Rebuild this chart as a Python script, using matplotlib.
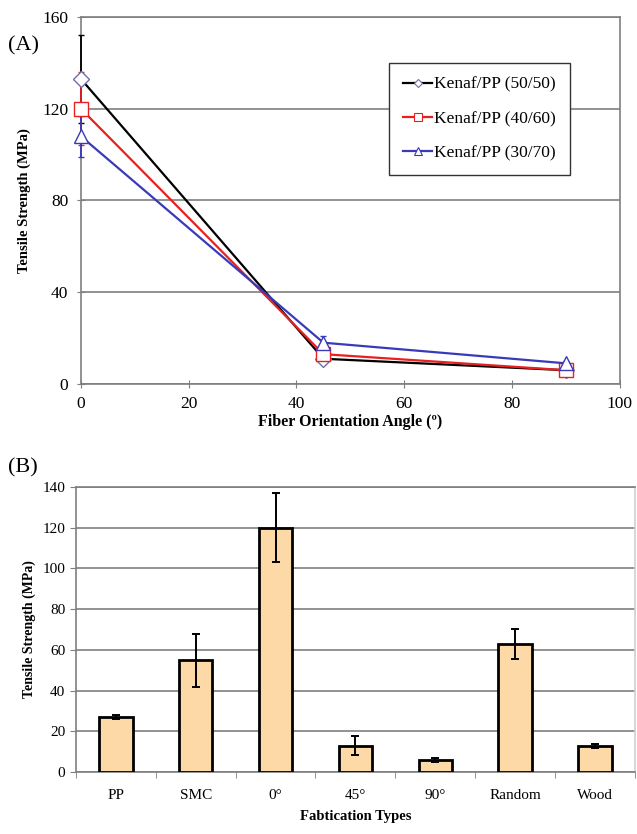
import matplotlib
matplotlib.use("Agg")
import matplotlib.pyplot as plt
from matplotlib.lines import Line2D

plt.rcParams['font.family'] = ['Liberation Serif', 'DejaVu Serif']

# (A) tensile strength vs fiber orientation angle
angles = [0, 45, 90]
s50 = [133, 11, 6]
e50 = [19, 2, 1]
s40 = [120, 13, 6]
e40 = [16, 3, 1]
s30 = [108, 18, 9]
e30 = [9, 3, 1]
labels_a = ["Kenaf/PP (50/50)", "Kenaf/PP (40/60)", "Kenaf/PP (30/70)"]

# (B) tensile strength by fabrication type
types = ["PP", "SMC", "0°", "45°", "90°", "Random", "Wood"]
strength = [27, 55, 120, 13, 6, 63, 13]
strength_err = [1, 13, 17, 4.5, 1, 7.5, 1]

fig = plt.figure(figsize=(6.37, 8.34), dpi=100)
grid_c = "#7f7f7f"

ax = fig.add_axes([0.127, 0.5396, 0.846, 0.44])
series = [
    (s50, e50, "#000000", "D", "#6f6fb0", 8),
    (s40, e40, "#e82020", "s", "#e82020", 10),
    (s30, e30, "#3a3ab8", "^", "#3a3ab8", 10),
]
handles = []
for (y, e, c, m, mc, ms), lab in zip(series, labels_a):
    eb = ax.errorbar(angles, y, yerr=e, color=c, lw=1.6, marker=m, ms=ms,
                     mfc="white", mec=mc, mew=1.0, ecolor=c, elinewidth=1.3,
                     capsize=2.5, zorder=3)
    for art in eb.get_children():
        art.set_clip_on(False)
    handles.append(Line2D([], [], color=c, lw=1.6, marker=m, ms=ms * 0.55,
                          mfc="white", mec=mc, mew=0.8, label=lab))
ax.set_xlim(0, 100)
ax.set_ylim(0, 160)
ax.set_xticks(range(0, 101, 20))
ax.set_yticks(range(0, 161, 40))
ax.yaxis.grid(True, color=grid_c, lw=1.2)
ax.set_axisbelow(True)
for sp in ax.spines.values():
    sp.set_color(grid_c)
    sp.set_linewidth(1.2)
ax.tick_params(direction="inout", length=6, color=grid_c, labelsize=12.5, pad=6)
ax.set_xlabel("Fiber Orientation Angle (º)", fontsize=11.5, fontweight="bold", labelpad=1)
ax.set_ylabel("Tensile Strength (MPa)", fontsize=10.5, fontweight="bold", labelpad=8)
leg = ax.legend(handles=handles, loc="upper left", bbox_to_anchor=(0.562, 0.89),
                fontsize=12.5, frameon=True, fancybox=False, edgecolor="#333333",
                handlelength=1.7, handletextpad=0.1, borderpad=0.8,
                borderaxespad=0.3, labelspacing=1.05, framealpha=1)
leg.get_frame().set_linewidth(1.0)
fig.text(0.012, 0.945, "(A)", fontsize=16, va="center")

# (B)
bx = fig.add_axes([0.119, 0.0743, 0.878, 0.3417])
xs = range(len(types))
bx.bar(xs, strength, width=0.42, color="#fdd9a8", edgecolor="black", lw=2,
       yerr=strength_err, ecolor="black", capsize=3,
       error_kw=dict(elinewidth=1.4, capthick=1.4), zorder=3)
bx.set_xlim(-0.5, len(types) - 0.5)
bx.set_ylim(0, 140)
bx.set_yticks(range(0, 141, 20))
bx.set_xticks(list(xs))
bx.set_xticklabels(types)
bx.set_xticks([i - 0.5 for i in range(len(types) + 1)], minor=True)
bx.tick_params(axis="x", which="major", length=0, labelsize=11, pad=12)
bx.tick_params(axis="x", which="minor", direction="out", length=4, color=grid_c)
bx.tick_params(axis="y", direction="out", length=4, color=grid_c, labelsize=11)
bx.yaxis.grid(True, color=grid_c, lw=1.2)
bx.set_axisbelow(True)
for sp in bx.spines.values():
    sp.set_color(grid_c)
    sp.set_linewidth(1.2)
bx.spines["right"].set_color("#d0d0d0")
bx.set_xlabel("Fabtication Types", fontsize=10.5, fontweight="bold", labelpad=6)
bx.set_ylabel("Tensile Strength (MPa)", fontsize=10, fontweight="bold", labelpad=5)
fig.text(0.012, 0.439, "(B)", fontsize=16, va="center")

fig.savefig("out.png", dpi=100)
